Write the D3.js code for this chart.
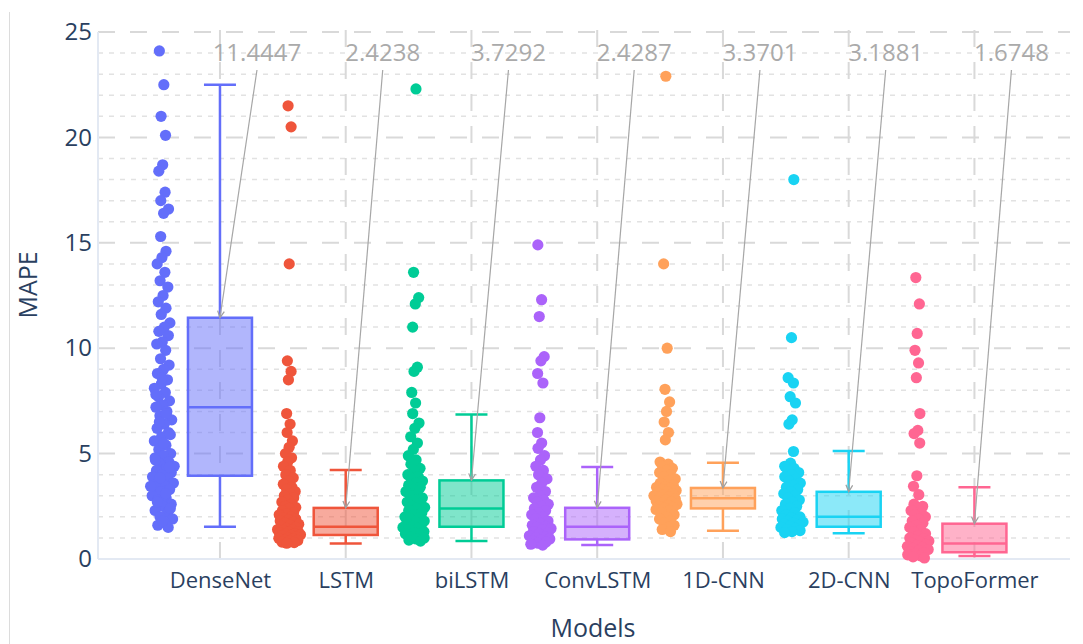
<!DOCTYPE html>
<html>
<head>
<meta charset="utf-8">
<script src="https://cdn.jsdelivr.net/npm/d3@7"></script>
<style>
  body { margin: 0; background: #fff; }
  svg { display: block; font-family: "Open Sans", "DejaVu Sans", sans-serif; }
</style>
</head>
<body>
<svg id="chart" width="1083" height="644"></svg>
<script>
// models and their colours
var models = ["DenseNet", "LSTM", "biLSTM", "ConvLSTM", "1D-CNN", "2D-CNN", "TopoFormer"];
var colors = ["#636efa", "#EF553B", "#00cc96", "#ab63fa", "#FFA15A", "#19d3f3", "#FF6692"];

// box statistics (q3 = annotation value)
var lowerFence = [1.53, 0.74, 0.85, 0.66, 1.34, 1.22, 0.14];
var q1 = [3.95, 1.14, 1.53, 0.93, 2.40, 1.53, 0.32];
var median = [7.20, 1.53, 2.40, 1.53, 2.88, 2.00, 0.74];
var q3 = [11.4447, 2.4238, 3.7292, 2.4287, 3.3701, 3.1881, 1.6748];
var upperFence = [22.5, 4.22, 6.86, 4.36, 4.57, 5.12, 3.40];

// individual MAPE points per model
var denseNetPts = [24.1, 22.5, 21.0, 20.1, 18.7, 18.4, 17.4, 17.0, 16.6, 16.4, 15.3, 14.6, 14.3, 14.0, 13.6, 13.2,
  12.9, 12.5, 12.2, 11.9, 11.6, 11.2, 11.0, 10.8, 10.6, 10.3, 10.2, 9.9, 9.5, 9.2, 9.0, 8.8, 8.5, 8.3, 8.1,
  7.9, 7.7, 7.5, 7.3, 7.2, 7.0, 6.8, 6.6, 6.4, 6.2, 6.0, 5.8, 5.6, 5.4, 5.2, 5.0, 4.9, 4.8, 4.6, 4.5, 4.4,
  4.3, 4.2, 4.1, 4.0, 3.9, 3.8, 3.7, 3.6, 3.5, 3.4, 3.3, 3.2, 3.0, 2.9, 2.8, 2.6, 2.5, 2.3, 2.2, 2.0, 1.9,
  1.7, 1.6, 1.5, 8.6, 7.8, 6.9, 6.5, 5.9, 5.5, 4.7, 4.35, 3.85, 3.45, 3.1, 2.7, 2.4, 1.8];
var lstmPts = [21.5, 20.5, 14.0, 9.4, 8.9, 8.5, 6.9, 6.4, 6.0, 5.6, 5.3, 5.0, 4.8, 4.6, 4.4, 4.2, 4.0, 3.85,
  3.7, 3.55, 3.4, 3.3, 3.2, 3.1, 3.0, 2.9, 2.8, 2.7, 2.6, 2.5, 2.45, 2.4, 2.3, 2.2, 2.15, 2.1, 2.0, 1.95,
  1.9, 1.85, 1.8, 1.75, 1.7, 1.65, 1.6, 1.55, 1.5, 1.45, 1.4, 1.38, 1.35, 1.3, 1.28, 1.25, 1.2, 1.18, 1.15,
  1.12, 1.1, 1.05, 1.0, 0.98, 0.95, 0.9, 0.88, 0.85, 0.8, 0.78, 0.75];
var biLstmPts = [22.3, 13.6, 12.4, 12.1, 11.0, 9.1, 8.9, 7.9, 7.4, 6.9, 6.45, 6.2, 5.8, 5.5, 5.2, 4.9, 4.7,
  4.5, 4.3, 4.2, 4.0, 3.9, 3.8, 3.7, 3.6, 3.5, 3.4, 3.3, 3.2, 3.1, 3.0, 2.9, 2.8, 2.7, 2.6, 2.5, 2.45, 2.4,
  2.3, 2.2, 2.1, 2.0, 1.95, 1.9, 1.8, 1.75, 1.7, 1.6, 1.55, 1.5, 1.45, 1.4, 1.3, 1.25, 1.2, 1.1, 1.05, 1.0,
  0.95, 0.9, 0.85];
var convLstmPts = [14.9, 12.3, 11.5, 9.6, 9.4, 8.8, 8.35, 6.7, 6.0, 5.5, 5.25, 4.9, 4.7, 4.4, 4.2, 4.0, 3.8,
  3.6, 3.4, 3.2, 3.0, 2.9, 2.8, 2.7, 2.6, 2.5, 2.4, 2.3, 2.2, 2.1, 2.0, 1.9, 1.8, 1.7, 1.6, 1.55, 1.5, 1.45,
  1.4, 1.3, 1.25, 1.2, 1.1, 1.05, 1.0, 0.95, 0.9, 0.85, 0.8, 0.75, 0.7, 0.66];
var cnn1dPts = [22.9, 14.0, 10.0, 8.05, 7.45, 7.0, 6.5, 6.0, 5.65, 4.6, 4.5, 4.4, 4.3, 4.2, 4.1, 4.0, 3.9,
  3.8, 3.7, 3.6, 3.5, 3.45, 3.4, 3.35, 3.3, 3.25, 3.2, 3.15, 3.1, 3.05, 3.0, 2.95, 2.9, 2.85, 2.8, 2.75, 2.7,
  2.65, 2.6, 2.55, 2.5, 2.45, 2.4, 2.35, 2.3, 2.2, 2.1, 2.0, 1.9, 1.8, 1.7, 1.6, 1.5, 1.4, 1.3];
var cnn2dPts = [18.0, 10.5, 8.6, 8.35, 7.7, 7.4, 6.6, 6.4, 5.1, 4.55, 4.4, 4.3, 4.2, 4.1, 4.0, 3.9, 3.8,
  3.7, 3.6, 3.5, 3.4, 3.3, 3.2, 3.1, 3.0, 2.9, 2.8, 2.7, 2.6, 2.5, 2.4, 2.3, 2.2, 2.1, 2.0, 1.95, 1.9, 1.85,
  1.8, 1.75, 1.7, 1.65, 1.6, 1.55, 1.5, 1.45, 1.4, 1.35, 1.3, 1.25];
var topoPts = [13.35, 12.1, 10.7, 9.9, 9.3, 8.6, 6.9, 6.1, 5.95, 5.5, 3.95, 3.45, 3.05, 2.6, 2.5, 2.4, 2.3,
  2.2, 2.1, 2.0, 1.9, 1.8, 1.7, 1.6, 1.5, 1.4, 1.3, 1.2, 1.1, 1.0, 0.95, 0.9, 0.85, 0.8, 0.75, 0.7, 0.65,
  0.6, 0.55, 0.5, 0.45, 0.4, 0.35, 0.3, 0.25, 0.2, 0.15, 0.1, 0.05];
var points = [denseNetPts, lstmPts, biLstmPts, convLstmPts, cnn1dPts, cnn2dPts, topoPts];

var yTicks = [0, 5, 10, 15, 20, 25];

var svg = d3.select("#chart");
var plotLeft = 98, plotRight = 1070, plotTop = 32, plotBottom = 559;

var x = d3.scaleLinear().domain([-0.97, 6.76]).range([plotLeft, plotRight]);
var y = d3.scaleLinear().domain([0, 25]).range([plotBottom, plotTop]);

var boxHalf = 32, pointShift = -57, jitterHalf = 12.5;

// outer frame line on the left of the picture
svg.append("line").attr("x1", 9.5).attr("x2", 9.5).attr("y1", 12).attr("y2", 644)
  .attr("stroke", "#dcdcdc").attr("stroke-width", 1);

// grid
var grid = svg.append("g");
var minor = d3.range(1, 25).filter(function (v) { return v % 5 !== 0; });
grid.selectAll(".minor").data(minor).enter().append("line")
  .attr("x1", plotLeft).attr("x2", plotRight)
  .attr("y1", function (d) { return y(d); }).attr("y2", function (d) { return y(d); })
  .attr("stroke", "#e2e2e2").attr("stroke-width", 1.5).attr("stroke-dasharray", "5,6");
grid.selectAll(".major").data(yTicks.filter(function (v) { return v > 0; })).enter().append("line")
  .attr("x1", plotLeft).attr("x2", plotRight)
  .attr("y1", function (d) { return y(d); }).attr("y2", function (d) { return y(d); })
  .attr("stroke", "#d9d9d9").attr("stroke-width", 2).attr("stroke-dasharray", "17,15");
grid.selectAll(".vert").data(d3.range(models.length)).enter().append("line")
  .attr("x1", function (d) { return x(d); }).attr("x2", function (d) { return x(d); })
  .attr("y1", plotTop - 2).attr("y2", plotBottom)
  .attr("stroke", "#d9d9d9").attr("stroke-width", 2).attr("stroke-dasharray", "17,15");

// zero line and y axis line
svg.append("line").attr("x1", plotLeft).attr("x2", plotRight).attr("y1", y(0)).attr("y2", y(0))
  .attr("stroke", "#e3e9f3").attr("stroke-width", 2);
svg.append("line").attr("x1", plotLeft).attr("x2", plotLeft).attr("y1", plotTop).attr("y2", plotBottom)
  .attr("stroke", "#e3e9f3").attr("stroke-width", 2);

// axes
var yAxis = svg.append("g").attr("transform", "translate(" + plotLeft + ",0)")
  .call(d3.axisLeft(y).tickValues(yTicks).tickSize(0).tickPadding(6));
yAxis.select(".domain").remove();
yAxis.selectAll("text").attr("fill", "#2a3f5f").style("font-size", "24px")
  .style("font-family", "'Open Sans', sans-serif");

var xAxis = svg.append("g").attr("transform", "translate(0," + plotBottom + ")")
  .call(d3.axisBottom(x).tickValues(d3.range(models.length))
    .tickFormat(function (i) { return models[i]; }).tickSize(0));
xAxis.select(".domain").remove();
xAxis.selectAll("text").attr("fill", "#2a3f5f").style("font-size", "22px")
  .style("font-family", "'Open Sans', sans-serif").attr("y", 21).attr("dy", "0.35em");

svg.append("text").attr("transform", "translate(28,285) rotate(-90)")
  .attr("text-anchor", "middle").attr("dy", "0.35em")
  .attr("fill", "#2a3f5f").style("font-size", "25px").text("MAPE");
svg.append("text").attr("x", 593).attr("y", 628).attr("dy", "0.35em")
  .attr("text-anchor", "middle").attr("fill", "#2a3f5f").style("font-size", "25px").text("Models");

// points with density based jitter
points.forEach(function (vals, m) {
  var ys = vals.map(function (v) { return y(v); });
  var dens = ys.map(function (a) {
    return ys.filter(function (b) { return Math.abs(a - b) < 10; }).length;
  });
  var maxD = d3.max(dens);
  var cx = x(m) + pointShift;
  svg.append("g").selectAll("circle").data(vals).enter().append("circle")
    .attr("cx", function (d, i) {
      var u = ((i * 0.6180339887 + m * 0.37) % 1) * 2 - 1;
      return cx + u * jitterHalf * Math.sqrt(dens[i] / maxD);
    })
    .attr("cy", function (d) { return y(d); })
    .attr("r", 5.6)
    .attr("fill", colors[m]);
});

// boxes
var boxes = svg.append("g").selectAll("g").data(models).enter().append("g");
boxes.each(function (name, m) {
  var g = d3.select(this), c = x(m), col = colors[m];
  g.append("line").attr("x1", c).attr("x2", c).attr("y1", y(q3[m])).attr("y2", y(upperFence[m]))
    .attr("stroke", col).attr("stroke-width", 2.5);
  g.append("line").attr("x1", c).attr("x2", c).attr("y1", y(q1[m])).attr("y2", y(lowerFence[m]))
    .attr("stroke", col).attr("stroke-width", 2.5);
  [upperFence[m], lowerFence[m]].forEach(function (v) {
    g.append("line").attr("x1", c - boxHalf / 2).attr("x2", c + boxHalf / 2)
      .attr("y1", y(v)).attr("y2", y(v)).attr("stroke", col).attr("stroke-width", 2.5);
  });
  g.append("rect").attr("x", c - boxHalf).attr("width", boxHalf * 2)
    .attr("y", y(q3[m])).attr("height", y(q1[m]) - y(q3[m]))
    .attr("fill", col).attr("fill-opacity", 0.5)
    .attr("stroke", col).attr("stroke-width", 2.5);
  g.append("line").attr("x1", c - boxHalf).attr("x2", c + boxHalf)
    .attr("y1", y(median[m])).attr("y2", y(median[m]))
    .attr("stroke", col).attr("stroke-width", 2.5);
});

// annotations with arrows pointing at q3
svg.append("defs").append("marker").attr("id", "arrow")
  .attr("viewBox", "0 0 10 10").attr("refX", 9).attr("refY", 5)
  .attr("markerWidth", 7).attr("markerHeight", 7).attr("orient", "auto")
  .append("path").attr("d", "M1,1 L9,5 L1,9").attr("fill", "none")
  .attr("stroke", "#a0a0a0").attr("stroke-width", 1.5);

var ann = svg.append("g");
q3.forEach(function (v, m) {
  var c = x(m), tx = c + 37;
  ann.append("line").attr("x1", tx).attr("y1", 70).attr("x2", c).attr("y2", y(v))
    .attr("stroke", "#a6a6a6").attr("stroke-width", 1.2).attr("marker-end", "url(#arrow)");
  ann.append("text").attr("x", tx).attr("y", y(24)).attr("dy", "0.35em")
    .attr("text-anchor", "middle").attr("fill", "#aaaaaa").style("font-size", "24px")
    .text(v.toFixed(4));
});
</script>
</body>
</html>
